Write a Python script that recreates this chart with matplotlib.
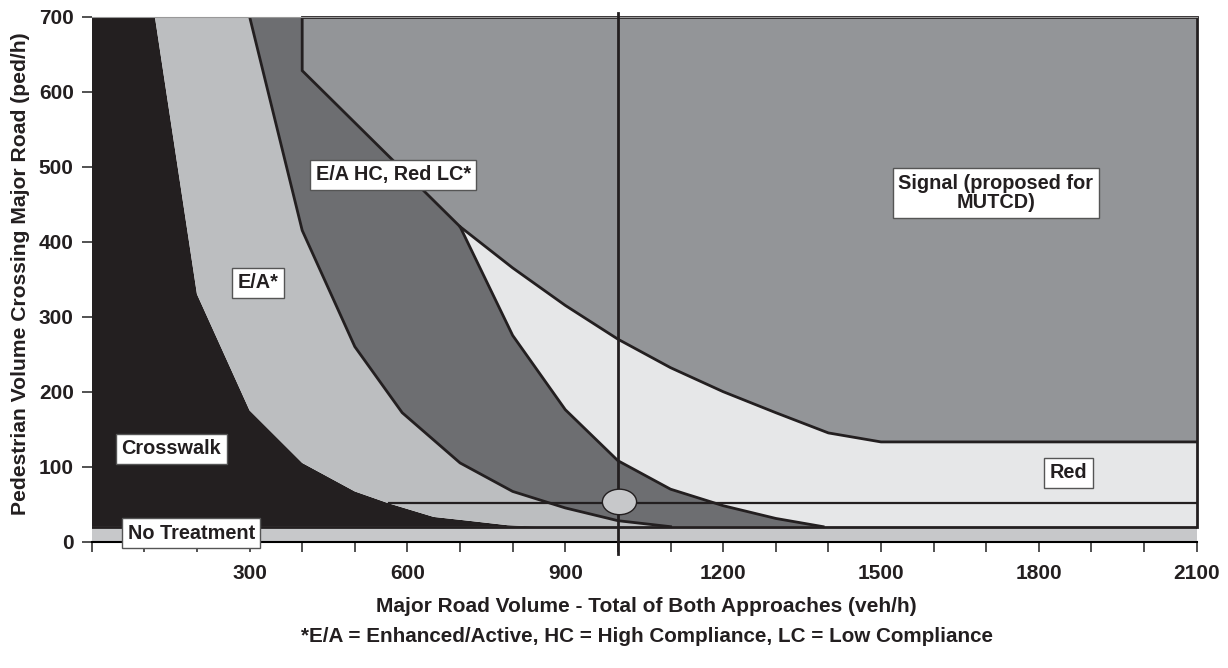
import numpy as np
import matplotlib
matplotlib.use("Agg")
import matplotlib.pyplot as plt
from matplotlib.patches import Ellipse

# zone boundaries (x = major road veh/h, y = ped/h)
cross_x = [120, 200, 300, 400, 500, 565, 650, 715, 790, 850]
cross_y = [700, 330, 175, 105, 67, 51, 33, 28, 22, 20]
ea_x = [300, 400, 500, 590, 700, 800, 900, 1000, 1100]
ea_y = [700, 415, 260, 172, 105, 67, 45, 28, 20]
hc_x = [400, 400, 700]
hc_y = [700, 628, 420]
red_x = [700, 800, 900, 1000, 1100, 1200, 1300, 1390]
red_y = [420, 275, 176, 108, 70, 48, 31, 20]
sig_x = [700, 800, 900, 1000, 1100, 1200, 1300, 1400, 1500, 2100]
sig_y = [420, 365, 315, 270, 232, 200, 172, 145, 133, 133]
no_treat_y = 20
ea_line_x0, ea_line_y = 565, 52
ref_volume = 1000
marker_xy = (1003, 53)
x_max, y_max = 2100, 700

zone_text = ["Crosswalk", "No Treatment", "E/A*", "E/A HC, Red LC*",
             "Signal (proposed for\nMUTCD)", "Red"]
zone_pos = [(151, 124), (189, 11), (316, 345), (573, 489), (1718, 465), (1857, 92)]

x_ticks = list(range(0, 2101, 100))
x_labels = ["" if v % 300 or v == 0 else str(v) for v in x_ticks]
y_ticks = list(range(0, 701, 100))

plt.rcParams['font.family'] = ['Liberation Sans', 'DejaVu Sans']
plt.rcParams['font.weight'] = 'bold'

c_black = '#231f20'
c_ea = '#bcbec0'
c_dark = '#6d6e71'
c_sig = '#939598'
c_red = '#e6e7e8'
c_none = '#c7c8ca'

fig = plt.figure(figsize=(12.28, 6.68), dpi=100)
ax = fig.add_axes([0.0747, 0.1891, 0.8998, 0.786])

ax.axhspan(0, no_treat_y, color=c_none, lw=0)
ax.fill([0] + cross_x + [0], [y_max] + cross_y + [no_treat_y], color=c_black, lw=0)
ax.fill(ea_x + cross_x[::-1], ea_y + cross_y[::-1], color=c_ea, lw=0)
ax.fill(ea_x + red_x[::-1] + hc_x[::-1], ea_y + red_y[::-1] + hc_y[::-1], color=c_dark, lw=0)
ax.fill(sig_x + [x_max] + red_x[::-1], sig_y + [no_treat_y] + red_y[::-1], color=c_red, lw=0)
ax.fill([400, x_max] + sig_x[::-1] + [400], [y_max, y_max] + sig_y[::-1] + [628], color=c_sig, lw=0)

lk = dict(color=c_black, lw=2, solid_joinstyle='miter')
ax.plot(ea_x, ea_y, **lk)
ax.plot(hc_x + red_x[1:], hc_y + red_y[1:], **lk)
ax.plot(sig_x, sig_y, **lk)
ax.plot([400, x_max, x_max], [y_max, y_max, no_treat_y], clip_on=False, **lk)
ax.plot([0, x_max], [no_treat_y, no_treat_y], color=c_black, lw=2)
ax.plot([ea_line_x0, x_max], [ea_line_y, ea_line_y], color=c_black, lw=1.6)
ax.plot([ref_volume, ref_volume], [-16, 705], color=c_black, lw=2, clip_on=False, zorder=5)

ax.add_patch(Ellipse(marker_xy, 65, 34, fc=c_none, ec=c_black, lw=1, zorder=6))

for t, (x, y) in zip(zone_text, zone_pos):
    ax.text(x, y, t, ha='center', va='center', fontsize=14.3, color=c_black,
            linespacing=1.05, zorder=8,
            bbox=dict(boxstyle='square,pad=0.28', fc='white', ec='#555555', lw=1))

ax.set_xlim(0, x_max)
ax.set_ylim(0, y_max)
ax.set_xticks(x_ticks)
ax.set_xticklabels(x_labels)
ax.set_yticks(y_ticks)
ax.tick_params(axis='both', direction='out', length=7, width=1.2, color='#333333',
               labelsize=15, labelcolor=c_black, pad=6)
ax.tick_params(axis='x', pad=9)
for s in ['left', 'right']:
    ax.spines[s].set_visible(False)
ax.spines['top'].set_color('#999999')
ax.spines['bottom'].set_linewidth(1.5)

fig.text(0.0165, 0.59, "Pedestrian Volume Crossing Major Road (ped/h)", rotation=90,
         ha='center', va='center', fontsize=15.2, color=c_black)
fig.text(646 / 1228, 1 - 607 / 668, "Major Road Volume - Total of Both Approaches (veh/h)",
         ha='center', va='center', fontsize=15, color=c_black)
fig.text(647 / 1228, 1 - 637 / 668,
         "*E/A = Enhanced/Active, HC = High Compliance, LC = Low Compliance",
         ha='center', va='center', fontsize=14.9, color=c_black)

fig.savefig("out.png", dpi=100)
